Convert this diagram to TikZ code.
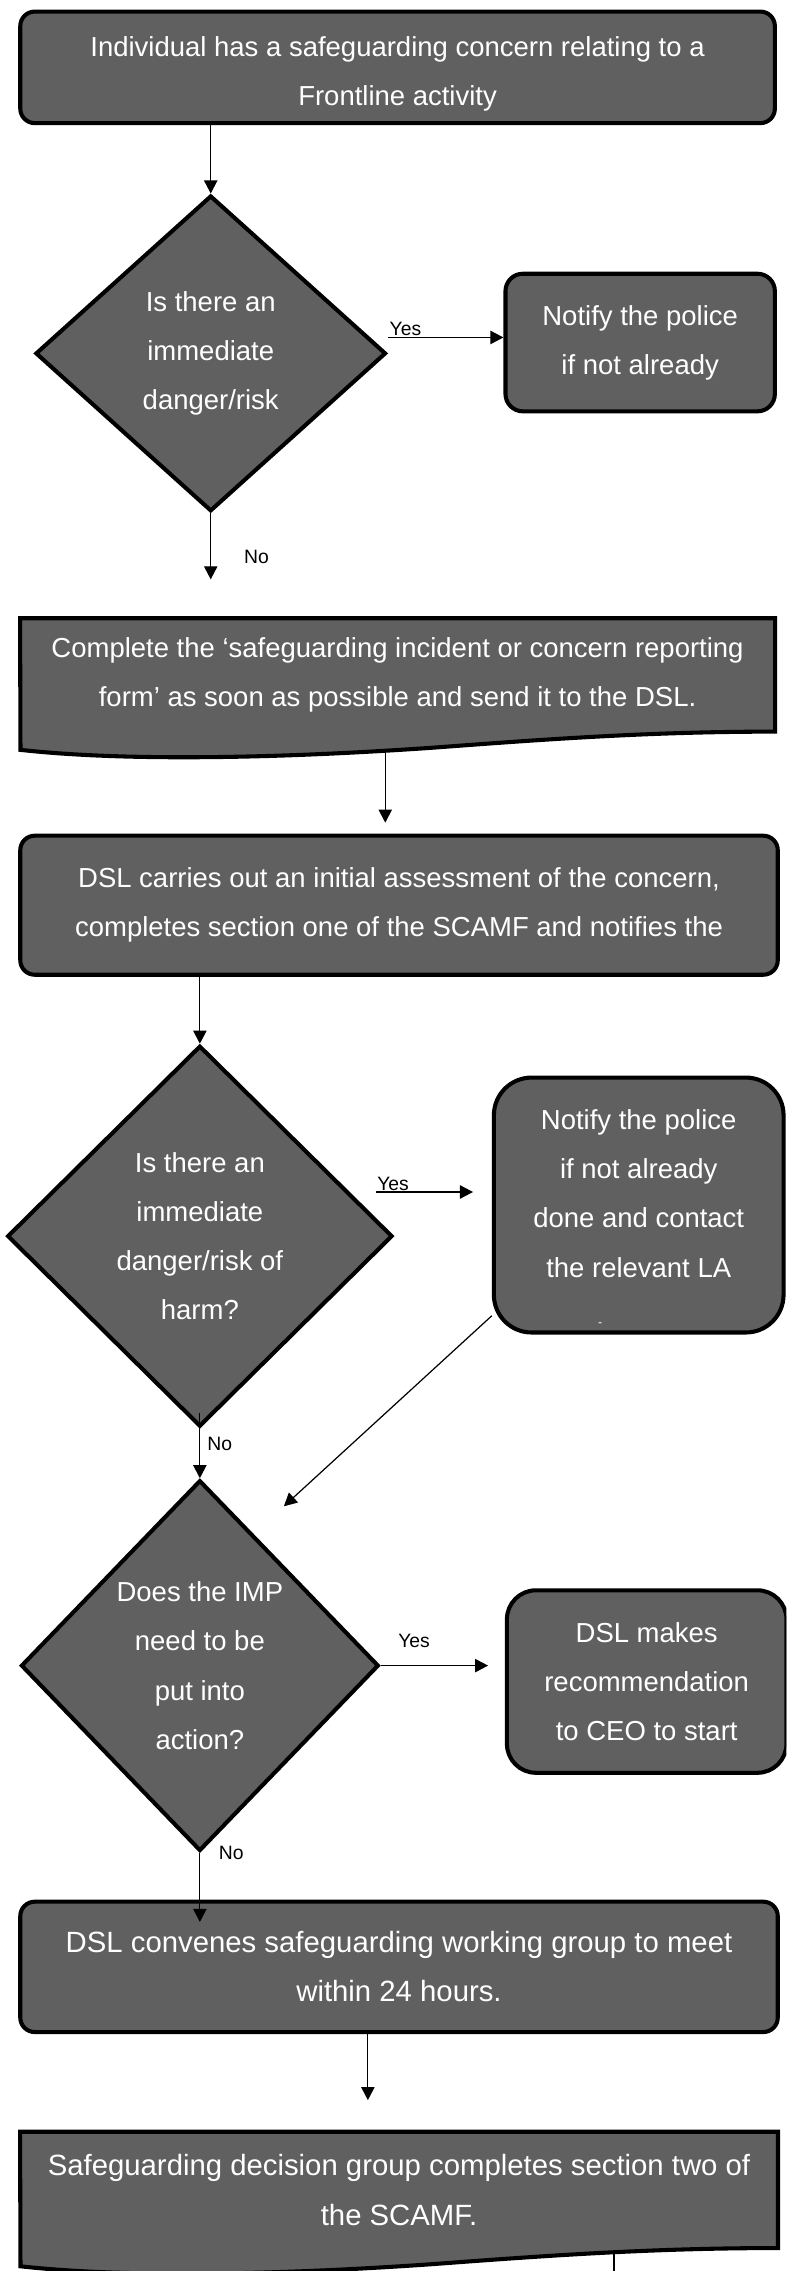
\documentclass[tikz,border=0pt]{standalone}
\usepackage{fontspec}
\setmainfont{Liberation Sans}
\usepackage{tikz}
\usetikzlibrary{arrows.meta,positioning,shapes.geometric,backgrounds}
\definecolor{boxgray}{RGB}{96,96,96}

\begin{document}
\begin{tikzpicture}[
  x=0.5mm, y=0.5mm,
  box/.style={draw, line width=4pt, fill=boxgray, text=white, rounded corners=5mm, align=center, inner sep=0pt, font=\fontsize{27}{48.4}\selectfont},
  doctext/.style={text=white, align=center, inner sep=0pt, font=\fontsize{27}{48.4}\selectfont},
  docline/.style={draw, line width=4pt, fill=boxgray},
  decision/.style={diamond, draw, line width=4pt, fill=boxgray, text=white, align=center, inner sep=0pt, font=\fontsize{27}{48.4}\selectfont},
  flow/.style={-{Triangle[length=4.5mm,width=4.6mm]}, line width=1.2pt},
  lbl/.style={font=\fontsize{19}{22}\selectfont, inner sep=1pt},
  bigger/.style={font=\fontsize{28.8}{48.4}\selectfont}
]
\useasboundingbox (0,0) rectangle (543,-1568);
\clip (0,0) rectangle (543,-1568);

\node[box, minimum width=260.5mm, minimum height=38.5mm] (start) at (274.5,-46.5) {\rule{0pt}{32pt}Individual has a safeguarding concern relating to a\\Frontline activity};
\node[decision, minimum width=121mm, minimum height=109mm] (danger1) at (145.5,-244) {Is there an\\immediate\\danger/risk};
\node[box, rounded corners=6mm, minimum width=93mm, minimum height=47.5mm] (police1) at (442,-236.5) {Notify the police\\if not already};
\node[doctext, minimum width=260.5mm, minimum height=39mm] (form) at (274.5,-466) {Complete the ‘safeguarding incident or concern reporting\\form’ as soon as possible and send it to the DSL.};
\node[box, minimum width=261.5mm, minimum height=48mm] (assess) at (275.5,-625) {DSL carries out an initial assessment of the concern,\\completes section one of the SCAMF and notifies the};
\node[decision, minimum width=133mm, minimum height=131.5mm] (danger2) at (138,-853.5) {Is there an\\immediate\\danger/risk of\\harm?};
\node[box, rounded corners=13mm, minimum width=100mm, minimum height=88mm] (police2) at (441,-832) {\rule{0pt}{45pt}Notify the police\\if not already\\done and contact\\the relevant LA\\\makebox[80pt][l]{\fontsize{12}{12}\selectfont -}};
\node[decision, minimum width=123.5mm, minimum height=128mm] (imp) at (138,-1150) {Does the IMP\\need to be\\put into\\action?};
\node[box, rounded corners=10mm, minimum width=96.5mm, minimum height=63mm] (recommend) at (446.5,-1161) {DSL makes\\recommendation\\to CEO to start};
\node[box, bigger, minimum width=261.5mm, minimum height=45mm] (convene) at (275.5,-1358) {DSL convenes safeguarding working group to meet\\within 24 hours.};
\node[doctext, bigger, minimum width=261.5mm, minimum height=40mm] (decide) at (275.5,-1512) {Safeguarding decision group completes section two of\\the SCAMF.};

\coordinate (noend) at (145.5,-400);
\coordinate (formout) at (266,-568);
\coordinate (diagend) at (196,-1040);
\coordinate (yesend) at (337,-1150);
\coordinate (convin) at (138,-1327);
\coordinate (convout) at (254,-1450);
\coordinate (decideout) at (424,-1600);

\begin{pgfonlayer}{background}
\draw[flow] (form.south -| formout) -- (formout);
\draw[flow] (decide.south -| decideout) -- (decideout);
\draw[docline] (form.south east) .. controls +(-85,0) and +(80,6) .. ++(-235,-11) .. controls +(-100,-7) and +(76,-8.4) .. ++(-286,-1.6) -- (form.north west) -- (form.north east) -- cycle;
\draw[docline] (decide.south east) .. controls +(-85,0) and +(80,6) .. ++(-237,-11) .. controls +(-100,-7) and +(76,-8.4) .. ++(-286,-1.6) -- (decide.north west) -- (decide.north east) -- cycle;
\end{pgfonlayer}

\draw[flow] (start.south -| danger1.north) -- (danger1.north);
\draw[flow] ([yshift=5.5mm]danger1.east) node[lbl, above right] {Yes} -- ([yshift=5.5mm]danger1.east -| police1.west);
\draw[flow] (danger1.south) -- (noend) node[lbl, pos=0.66, anchor=west, xshift=11mm] {No};
\draw[flow] (assess.south -| danger2.north) -- (danger2.north);
\draw[flow] ([xshift=-6.5mm,yshift=15.25mm]danger2.east) node[lbl, above right] {Yes} -- ([xshift=-6.5mm,yshift=15.25mm]danger2.east -| police2.west);
\draw[flow] (police2.217) -- (diagend);
\draw[flow] ([yshift=5.5mm]danger2.south) -- (imp.north) node[lbl, pos=0.48, anchor=west, xshift=2mm] {No};
\draw[flow] (imp.east) -- (yesend) node[lbl, pos=0.31, above=5.6mm] {Yes};
\draw[flow] (imp.south) -- (convin) node[lbl, pos=0, anchor=west, xshift=6mm] {No};
\draw[flow] (convene.south -| convout) -- (convout);
\end{tikzpicture}
\end{document}
